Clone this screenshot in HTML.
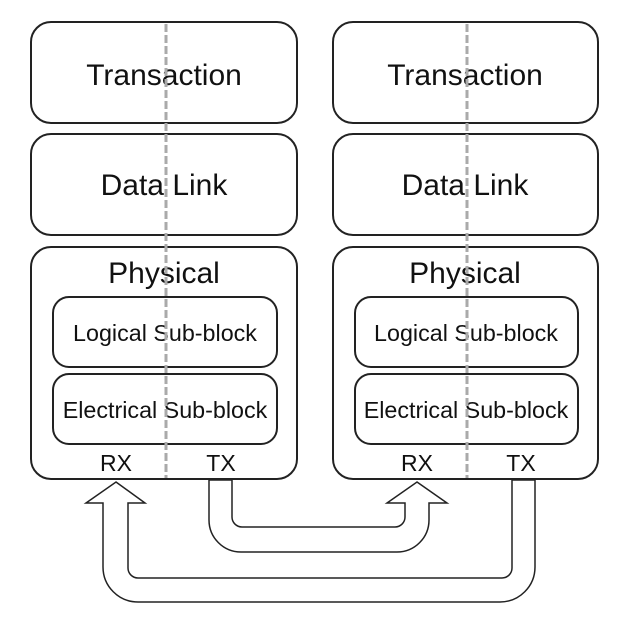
<!DOCTYPE html>
<html><head><meta charset="utf-8"><style>
html,body{margin:0;padding:0;background:#fff;}
svg{display:block;}
text{font-family:"Liberation Sans",Arial,sans-serif;fill:#111;text-anchor:middle;}
</style></head><body>
<svg width="631" height="624" viewBox="0 0 631 624" xmlns="http://www.w3.org/2000/svg">
<g fill="#fff" stroke="#222" stroke-width="2">
<rect x="31" y="22" width="266" height="101" rx="20"/>
<rect x="31" y="134" width="266" height="101" rx="20"/>
<rect x="31" y="247" width="266" height="232" rx="20"/>
<rect x="53" y="297" width="224" height="70" rx="16"/>
<rect x="53" y="374" width="224" height="70" rx="16"/>
<rect x="333" y="22" width="265" height="101" rx="20"/>
<rect x="333" y="134" width="265" height="101" rx="20"/>
<rect x="333" y="247" width="265" height="232" rx="20"/>
<rect x="355" y="297" width="223" height="70" rx="16"/>
<rect x="355" y="374" width="223" height="70" rx="16"/>
</g>
<g font-size="30">
<text x="164" y="85">Transaction</text>
<text x="465" y="85">Transaction</text>
<text x="164" y="195">Data Link</text>
<text x="465" y="195">Data Link</text>
<text x="164" y="283">Physical</text>
<text x="465" y="283">Physical</text>
</g>
<g font-size="23.3">
<text x="165" y="341">Logical Sub-block</text>
<text x="466" y="341">Logical Sub-block</text>
<text x="165" y="418">Electrical Sub-block</text>
<text x="466" y="418">Electrical Sub-block</text>
<text x="116" y="471" font-size="23">RX</text>
<text x="221" y="471" font-size="23">TX</text>
<text x="417" y="471" font-size="23">RX</text>
<text x="521" y="471" font-size="23">TX</text>
</g>
<g stroke="#aaa" stroke-width="3" stroke-dasharray="8,3">
<line x1="166" y1="24" x2="166" y2="478"/>
<line x1="467" y1="24" x2="467" y2="478"/>
</g>
<g fill="#fff" stroke="#222" stroke-width="1.5" stroke-linejoin="miter">
<path d="M116,482 L145,503 L128,503 L128,568 A10,10 0 0 0 138,578 L502,578 A10,10 0 0 0 512,568 L512,480 L535,480 L535,567 A35,35 0 0 1 500,602 L138,602 A35,35 0 0 1 103,567 L103,503 L86,503 Z"/>
<path d="M417,482 L447,503 L429,503 L429,520 A32,32 0 0 1 397,552 L241,552 A32,32 0 0 1 209,520 L209,480 L232,480 L232,517 A10,10 0 0 0 242,527 L395,527 A10,10 0 0 0 405,517 L405,503 L387,503 Z"/>
</g>
<g stroke="#222" stroke-width="2">
<line x1="200" y1="479" x2="240" y2="479"/>
<line x1="504" y1="479" x2="543" y2="479"/>
</g>
</svg>
</body></html>
